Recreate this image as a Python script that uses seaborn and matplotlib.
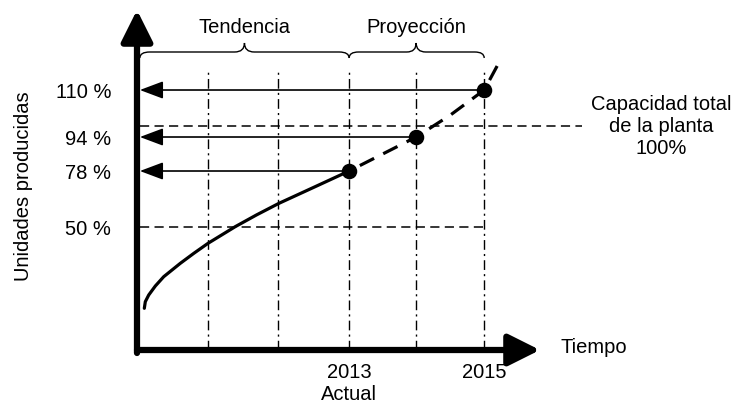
import numpy as np
import matplotlib
matplotlib.use("Agg")
import matplotlib.pyplot as plt
import seaborn as sns
from matplotlib.path import Path
from matplotlib.patches import PathPatch

# --- data -------------------------------------------------------------
trend_years = [2010.103, 2010.117, 2010.165, 2010.258, 2010.376, 2010.493, 2010.61,
               2010.80, 2011.00, 2011.39, 2011.69, 2012.01, 2012.50, 2013.00]
trend_values = [9.35, 12.65, 16.0, 20.5, 25.15, 28.5, 31.85,
                36.85, 41.85, 50.2, 56.0, 61.8, 69.8, 78.0]
proj_years = [2013.0, 2013.5, 2014.0, 2014.5, 2015.0, 2015.19]
proj_values = [78, 86, 94, 103, 110, 118]
milestone_years = [2013, 2014, 2015]
milestone_values = [78, 94, 110]
capacity_value = 100
reference_value = 50
grid_years = [2011, 2012, 2013, 2014, 2015]
ytick_values = [50, 78, 94, 110]
ytick_labels = ["50 %", "78 %", "94 %", "110 %"]
xtick_years = [2013, 2015]
xtick_labels = ["2013\nActual", "2015"]
phase_labels = ["Tendencia", "Proyección"]
phase_spans = [(2010.04, 2013.0), (2013.0, 2015.0)]
capacity_label = "Capacidad total\nde la planta\n100%"

# --- schematic (non-uniform) axis scales --------------------------------
x_knots = [2010, 2011, 2012, 2013, 2014, 2015, 2016, 2018]
x_disp = [0, 71, 141, 212, 279, 347, 415, 551]
y_knots = [-15, 50, 78, 94, 100, 110, 150]
y_disp = [-7, 123, 179, 213, 224, 260, 380]


def x_fwd(v):
    return np.interp(v, x_knots, x_disp)


def x_inv(v):
    return np.interp(v, x_disp, x_knots)


def y_fwd(v):
    return np.interp(v, y_knots, y_disp)


def y_inv(v):
    return np.interp(v, y_disp, y_knots)


sns.set_theme(style="white")
plt.rcParams["font.family"] = ["Liberation Sans", "DejaVu Sans"]
plt.rcParams.update({"text.color": "black", "axes.labelcolor": "black",
                     "xtick.color": "black", "ytick.color": "black"})
FS = 14.5
INK = "#000000"

fig = plt.figure(figsize=(7.38, 4.05), dpi=100)
ax = fig.add_axes([137 / 738, 55 / 405, 403 / 738, 340 / 405])
ax.set_xscale("function", functions=(x_fwd, x_inv))
ax.set_yscale("function", functions=(y_fwd, y_inv))
x_lo, x_hi = 2010.0, 2015.82
y_lo, y_hi = -11.5, 136.67
ax.set_xlim(x_lo, x_hi)
ax.set_ylim(y_lo, y_hi)
for s in ax.spines.values():
    s.set_visible(False)
ax.grid(False)

# vertical dash-dot guides
ax.vlines(grid_years, y_lo, 117, colors=INK, linewidth=1.0,
          linestyles=[(0, (7, 3, 1.5, 3))], zorder=1)

# horizontal dashed references
ax.hlines(reference_value, 2010.04, 2015.0, colors=INK, linewidth=1.1,
          linestyles=[(0, (6, 3.5))], zorder=1)
ax.hlines(capacity_value, 2010.04, 2016.44, colors=INK, linewidth=1.1,
          linestyles=[(0, (6, 3.5))], zorder=1, clip_on=False)

# trend (solid) and projection (dashed, pattern anchored at the far end)
sns.lineplot(x=trend_years, y=trend_values, ax=ax, color=INK, linewidth=2.3,
             sort=False, zorder=3, solid_capstyle="round")
sns.lineplot(x=proj_years[::-1], y=proj_values[::-1], ax=ax, color=INK,
             linewidth=2.3, sort=False, linestyle=(0, (5.0, 3.2)), zorder=3)
sns.scatterplot(x=milestone_years, y=milestone_values, ax=ax, color=INK,
                s=125, linewidth=0, zorder=5)

# arrows from each milestone to the vertical axis
for yr, val in zip(milestone_years, milestone_values):
    ax.annotate("", xy=(2010.04, val), xytext=(yr, val),
                arrowprops=dict(arrowstyle="-|>,head_length=1.2,head_width=0.45",
                                color=INK, lw=1.2, shrinkA=0, shrinkB=0),
                annotation_clip=False, zorder=4)

# main axes drawn as thick arrows
ax.annotate("", xy=(x_hi, y_lo), xytext=(2009.955, y_lo),
            arrowprops=dict(arrowstyle="-|>,head_length=1.6,head_width=0.8",
                            color=INK, lw=4.5, shrinkA=0, shrinkB=0),
            annotation_clip=False, zorder=6)
ax.annotate("", xy=(x_lo, y_hi), xytext=(x_lo, -13.0),
            arrowprops=dict(arrowstyle="-|>,head_length=1.6,head_width=0.8",
                            color=INK, lw=4.5, shrinkA=0, shrinkB=0),
            annotation_clip=False, zorder=6)

# braces over the trend / projection phases
y_b, y_m, y_t = 120.67, 122.67, 125.67
r = 0.14
for (x0, x1), label in zip(phase_spans, phase_labels):
    xm = (x0 + x1) / 2
    verts = [(x0, y_b), (x0, y_m), (x0 + r, y_m),
             (xm - r, y_m), (xm, y_m), (xm, y_t),
             (xm, y_m), (xm + r, y_m),
             (x1 - r, y_m), (x1, y_m), (x1, y_b)]
    codes = [Path.MOVETO, Path.CURVE3, Path.CURVE3,
             Path.LINETO, Path.CURVE3, Path.CURVE3,
             Path.CURVE3, Path.CURVE3,
             Path.LINETO, Path.CURVE3, Path.CURVE3]
    ax.add_patch(PathPatch(Path(verts, codes), facecolor="none",
                           edgecolor=INK, linewidth=1.0, clip_on=False))
    ax.text(xm, 131, label, ha="center", va="center", fontsize=FS)

# ticks and labels
ax.set_yticks(ytick_values, labels=ytick_labels, fontsize=FS)
ax.set_xticks(xtick_years, labels=xtick_labels, fontsize=FS)
ax.tick_params(axis="both", length=0)
ax.tick_params(axis="y", pad=18.5)
ax.tick_params(axis="x", pad=9.5)
ax.minorticks_off()
ax.set_ylabel("Unidades producidas", fontsize=FS)
ax.yaxis.set_label_coords(-0.258, 0.482)

ax.text(2016.12, -10, "Tiempo", ha="left", va="center", fontsize=FS,
        clip_on=False)
ax.text(2017.6, 100, capacity_label, ha="center", va="center",
        fontsize=FS, linespacing=1.2, clip_on=False)

fig.savefig("out.png", dpi=100, facecolor="white")
